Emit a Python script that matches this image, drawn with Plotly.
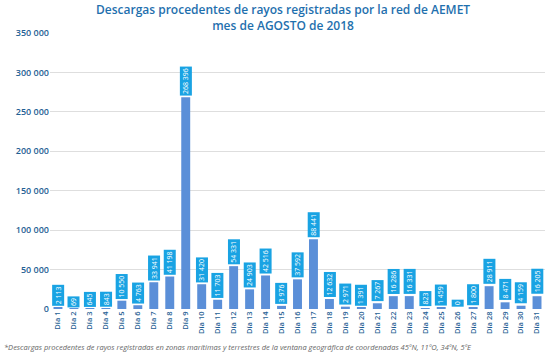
import plotly.graph_objects as go

days = [f"Día {i}" for i in range(1, 32)]
values = [2113, 69, 645, 843, 10550, 4763, 33941, 41198, 268396, 31420,
          11703, 54331, 24903, 42516, 3976, 37592, 88441, 12632, 2971, 1391,
          7267, 16286, 16331, 823, 1459, 0, 1800, 28911, 8471, 4159, 16205]
label_texts = [f"{v:,}".replace(",", " ") for v in values]

title_line1 = "Descargas procedentes de rayos registradas por la red de AEMET"
title_line2 = "mes de AGOSTO de 2018"
footnote = "*Descargas procedentes de rayos registradas en zonas marítimas y terrestres de la ventana geográfica de coordenadas 45ºN, 11ºO, 34ºN, 5ºE"

fig = go.Figure()
fig.add_trace(go.Bar(x=days, y=values, marker_color="#5b8fd8", marker_line_width=0,
                     hoverinfo="x+y"))

for d, v, t in zip(days, values, label_texts):
    fig.add_annotation(x=d, y=v, text=t, textangle=-90, showarrow=False,
                       yanchor="bottom", yshift=2,
                       font=dict(color="white", size=7, family="Open Sans"),
                       bgcolor="#19a3e3", borderwidth=0, borderpad=1.5)

title_font = dict(size=12, color="#1f70ae", family="Open Sans", weight=600)
fig.add_annotation(x=0.47, y=1, xref="paper", yref="paper", xanchor="center", yanchor="middle",
                   yshift=16, text=f"{title_line1}<br>{title_line2}", showarrow=False,
                   font=title_font)

fig.add_annotation(x=0, y=0, xref="paper", yref="paper", xanchor="left", yanchor="middle",
                   xshift=-48, yshift=-38, text=f"<i>{footnote}</i>", showarrow=False,
                   font=dict(size=7.5, color="#666666", family="Open Sans"))

fig.update_layout(
    width=550, height=359,
    margin=dict(l=50, r=5, t=33, b=50),
    paper_bgcolor="white", plot_bgcolor="white",
    separators=", ",
    showlegend=False,
    bargap=0.44,
    font=dict(family="Open Sans"),
)
fig.update_yaxes(range=[0, 350000], dtick=50000, tickformat=",d", gridcolor="#dedede",
                 gridwidth=1, zeroline=False, showline=False,
                 tickfont=dict(size=9, color="#1f5f94", weight=600), ticks="", ticklen=0)
fig.update_xaxes(tickangle=-90, tickfont=dict(size=7.5, color="#1f5f94", weight=600),
                 showline=False, ticks="", automargin=False)

fig.write_html("out.html", config={"displayModeBar": False},
               post_script="document.body.style.margin='0';")
